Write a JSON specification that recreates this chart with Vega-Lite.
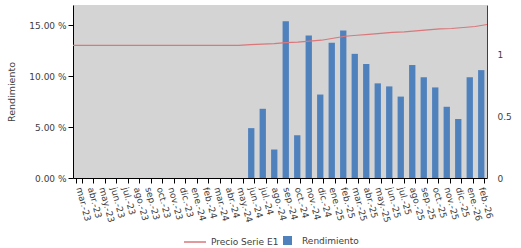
{
  "$schema": "https://vega.github.io/schema/vega-lite/v6.json",
  "width": 414,
  "height": 173,
  "autosize": {"type": "none"},
  "padding": {"left": 73, "top": 5, "right": 34, "bottom": 70},
  "config": {
    "view": {"fill": "#d4d4d4", "stroke": null},
    "font": "DejaVu Sans",
    "axis": {"labelFont": "DejaVu Sans", "titleFont": "DejaVu Sans", "labelColor": "#404040", "titleColor": "#404040", "domainColor": "#000000", "tickColor": "#000000", "grid": false},
    "legend": {"labelFont": "DejaVu Sans", "labelColor": "#404040", "labelFontSize": 9}
  },
  "data": {"values": [
    {"m": "mar.-23", "r": null, "p": 1.073},
    {"m": "abr.-23", "r": null, "p": 1.073},
    {"m": "may.-23", "r": null, "p": 1.073},
    {"m": "jun.-23", "r": null, "p": 1.073},
    {"m": "jul.-23", "r": null, "p": 1.073},
    {"m": "ago.-23", "r": null, "p": 1.073},
    {"m": "sep.-23", "r": null, "p": 1.073},
    {"m": "oct.-23", "r": null, "p": 1.073},
    {"m": "nov.-23", "r": null, "p": 1.073},
    {"m": "dic.-23", "r": null, "p": 1.073},
    {"m": "ene.-24", "r": null, "p": 1.073},
    {"m": "feb.-24", "r": null, "p": 1.073},
    {"m": "mar.-24", "r": null, "p": 1.073},
    {"m": "abr.-24", "r": null, "p": 1.073},
    {"m": "may.-24", "r": null, "p": 1.074},
    {"m": "jun.-24", "r": 4.9, "p": 1.079},
    {"m": "jul.-24", "r": 6.8, "p": 1.083},
    {"m": "ago.-24", "r": 2.8, "p": 1.087},
    {"m": "sep.-24", "r": 15.4, "p": 1.095},
    {"m": "oct.-24", "r": 4.2, "p": 1.099},
    {"m": "nov.-24", "r": 14.0, "p": 1.107},
    {"m": "dic.-24", "r": 8.2, "p": 1.115},
    {"m": "ene.-25", "r": 13.3, "p": 1.131},
    {"m": "feb.-25", "r": 14.5, "p": 1.147},
    {"m": "mar.-25", "r": 12.2, "p": 1.155},
    {"m": "abr.-25", "r": 11.2, "p": 1.163},
    {"m": "may.-25", "r": 9.3, "p": 1.171},
    {"m": "jun.-25", "r": 9.0, "p": 1.179},
    {"m": "jul.-25", "r": 8.0, "p": 1.183},
    {"m": "ago.-25", "r": 11.1, "p": 1.19},
    {"m": "sep.-25", "r": 9.9, "p": 1.198},
    {"m": "oct.-25", "r": 8.9, "p": 1.206},
    {"m": "nov.-25", "r": 7.0, "p": 1.21},
    {"m": "dic.-25", "r": 5.8, "p": 1.218},
    {"m": "ene.-26", "r": 9.9, "p": 1.226},
    {"m": "feb.-26", "r": 10.6, "p": 1.242}
  ]},
  "layer": [
    {
      "mark": {"type": "bar"},
      "encoding": {
        "x": {"field": "m", "type": "ordinal", "sort": null,
          "scale": {"paddingInner": 0.45, "paddingOuter": 0.225,
            "domain": ["mar.-23","abr.-23","may.-23","jun.-23","jul.-23","ago.-23","sep.-23","oct.-23","nov.-23","dic.-23","ene.-24","feb.-24","mar.-24","abr.-24","may.-24","jun.-24","jul.-24","ago.-24","sep.-24","oct.-24","nov.-24","dic.-24","ene.-25","feb.-25","mar.-25","abr.-25","may.-25","jun.-25","jul.-25","ago.-25","sep.-25","oct.-25","nov.-25","dic.-25","ene.-26","feb.-26"]},
          "axis": {"title": null, "labelAngle": 75, "labelAlign": "left", "labelBaseline": "middle", "labelFontSize": 9, "tickBand": "extent", "tickSize": 5, "labelPadding": 4}},
        "y": {"field": "r", "type": "quantitative", "scale": {"domain": [0, 17], "nice": false},
          "axis": {"title": "Rendimiento", "values": [0, 5, 10, 15], "labelExpr": "format(datum.value, '.2f') + ' %'", "labelFontSize": 9, "titleFontSize": 9.5, "titleFontWeight": "normal", "titlePadding": 12, "tickSize": 5}},
        "fill": {"datum": "Rendimiento", "type": "nominal", "scale": {"range": ["#4f81bd"]},
          "legend": {"title": null, "orient": "none", "legendX": 210, "legendY": 231, "symbolType": "square", "symbolSize": 81, "labelOffset": 10, "symbolStrokeWidth": 0}}
      }
    },
    {
      "mark": {"type": "line", "strokeWidth": 1.2},
      "encoding": {
        "x": {"field": "m", "type": "ordinal", "sort": null, "scale": {"type": "point", "padding": 0}, "axis": null},
        "y": {"field": "p", "type": "quantitative", "scale": {"domain": [0, 1.4], "nice": false},
          "axis": {"title": null, "orient": "right", "values": [0, 0.5, 1], "format": "~g", "labelFontSize": 9, "ticks": false, "labelPadding": 10, "domainColor": "#404040"}},
        "stroke": {"datum": "Precio Serie E1", "type": "nominal", "scale": {"range": ["#d9777a"]},
          "legend": {"title": null, "orient": "none", "legendX": 110, "legendY": 225, "symbolType": "stroke", "symbolSize": 484, "symbolStrokeWidth": 1.5, "labelOffset": 4}}
      }
    }
  ],
  "resolve": {"scale": {"x": "independent", "y": "independent"}}
}
